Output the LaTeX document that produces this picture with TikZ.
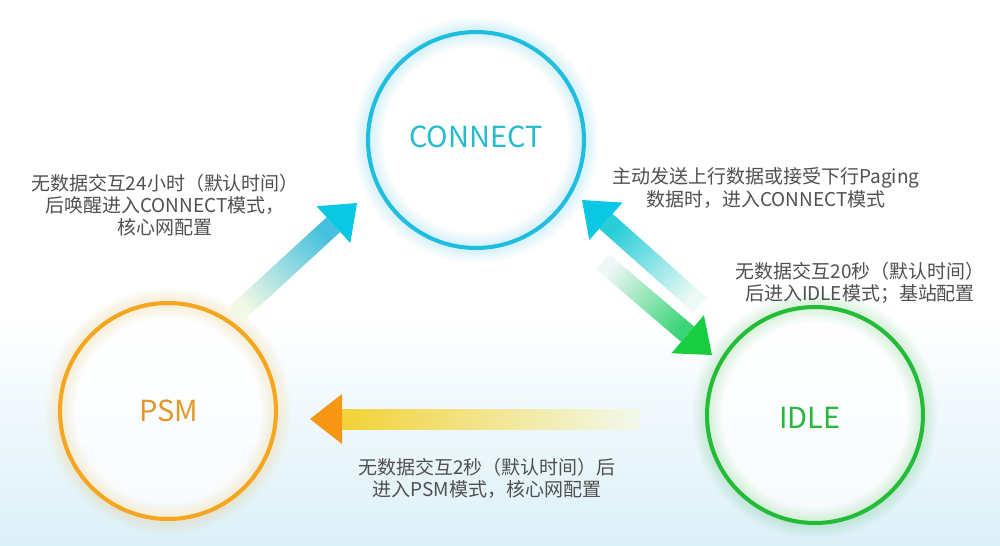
\documentclass[tikz,border=0pt]{standalone}
\usepackage{fontspec}
\setmainfont{Noto Sans CJK SC}
\usepackage{tikz}
\usetikzlibrary{calc,backgrounds}
\definecolor{conncol}{RGB}{30,190,222}
\definecolor{psmcol}{RGB}{245,165,30}
\definecolor{idlecol}{RGB}{35,188,55}
\definecolor{conntxt}{RGB}{38,188,205}
\definecolor{psmtxt}{RGB}{226,152,40}
\definecolor{idletxt}{RGB}{40,182,62}
\definecolor{labcol}{RGB}{80,80,80}
\definecolor{bgblue}{RGB}{220,240,248}
% arrow colours: head, shaft front, shaft middle, shaft tail
\definecolor{hdcyan}{RGB}{10,200,228}
\definecolor{hdgreen}{RGB}{25,205,65}
\definecolor{hdorange}{RGB}{246,150,20}
\definecolor{sfcyan}{RGB}{70,192,222}
\definecolor{smcyan}{RGB}{150,216,195}
\definecolor{stcyan}{RGB}{242,249,228}
\definecolor{sfmint}{RGB}{40,205,215}
\definecolor{smmint}{RGB}{110,228,195}
\definecolor{stmint}{RGB}{238,250,246}
\definecolor{sfgreen}{RGB}{60,212,120}
\definecolor{smgreen}{RGB}{140,222,180}
\definecolor{stgreen}{RGB}{238,247,247}
\definecolor{sfyellow}{RGB}{242,210,55}
\definecolor{smyellow}{RGB}{226,240,100}
\definecolor{styellow}{RGB}{242,249,236}

\begin{document}
\begin{tikzpicture}[
  state/.style={circle, draw=#1, line width=2.3pt, minimum size=4.32cm},
  stxt/.style={text=#1, font=\fontsize{16.5}{18}\selectfont},
  lab/.style={text=labcol, align=center, font=\fontsize{10.8}{12.6}\selectfont},
]
\useasboundingbox (0,0) rectangle (20,10.9);

\node[state=conncol] (conn) at (9.52, 8.10) {};
\node[state=psmcol]  (psm)  at (3.36, 2.68) {};
\node[state=idlecol] (idle) at (16.30,2.60) {};
\node[stxt=conntxt] (connt) at (9.52, 8.16) {CONNECT};
\node[stxt=psmtxt]  (psmt)  at (3.38, 2.68) {PSM};
\node[stxt=idletxt] (idlet) at (16.20,2.54) {IDLE};

\begin{scope}[on background layer]
  \fill[white] (0,0) rectangle (20,10.9);
  \shade[top color=white, bottom color=bgblue] (0,0) rectangle (20,4.6);
  \foreach \n/\c in {conn/conncol, psm/psmcol, idle/idlecol} {
    \fill[white, opacity=0.75] (\n.center) circle (2.16);
    \foreach \w in {0.12,0.20,...,0.68} {
      \draw[\c, opacity=0.025, line width=\w cm] (\n.center) circle (2.16);
    }
  }
\end{scope}

% transition arrows
\coordinate (a1) at (4.70, 4.60);  \coordinate (b1) at (7.14, 6.84);
\coordinate (a2) at (14.00,4.80);  \coordinate (b2) at (11.64,6.90);
\coordinate (a3) at (12.06,5.66);  \coordinate (b3) at (14.24,3.80);
\coordinate (a4) at (12.80,2.52);  \coordinate (b4) at (6.20, 2.52);

\foreach \a/\b/\hd/\sf/\sm/\st/\ang in {
    a1/b1/hdcyan/sfcyan/smcyan/stcyan/-47.4,
    a2/b2/hdcyan/sfmint/smmint/stmint/48.3,
    a3/b3/hdgreen/sfgreen/smgreen/stgreen/-130.5,
    a4/b4/hdorange/sfyellow/smyellow/styellow/90} {
  \coordinate (m) at ($(\b)!0.64cm!(\a)$);
  \shade[top color=\sf, middle color=\sm, bottom color=\st, shading angle=\ang]
    ($(\a)!0.2cm!90:(\b)$) -- ($(m)!0.2cm!90:(\b)$)
    -- ($(m)!0.2cm!-90:(\b)$) -- ($(\a)!0.2cm!-90:(\b)$) -- cycle;
  \fill[\hd] ($(m)!0.5cm!90:(\b)$) -- (\b) -- ($(m)!0.5cm!-90:(\b)$) -- cycle;
}

\node[lab] (l1) at (3.30, 6.80)
  {无数据交互24小时（默认时间）\\后唤醒进入CONNECT模式，\\核心网配置};
\node[lab] (l2) at (15.32,7.14)
  {主动发送上行数据或接受下行Paging\\数据时，进入CONNECT模式};
\node[lab] (l3) at (17.20,5.24)
  {无数据交互20秒（默认时间）\\后进入IDLE模式；基站配置};
\node[lab] (l4) at (9.74, 1.34)
  {无数据交互2秒（默认时间）后\\进入PSM模式，核心网配置};
\end{tikzpicture}
\end{document}
